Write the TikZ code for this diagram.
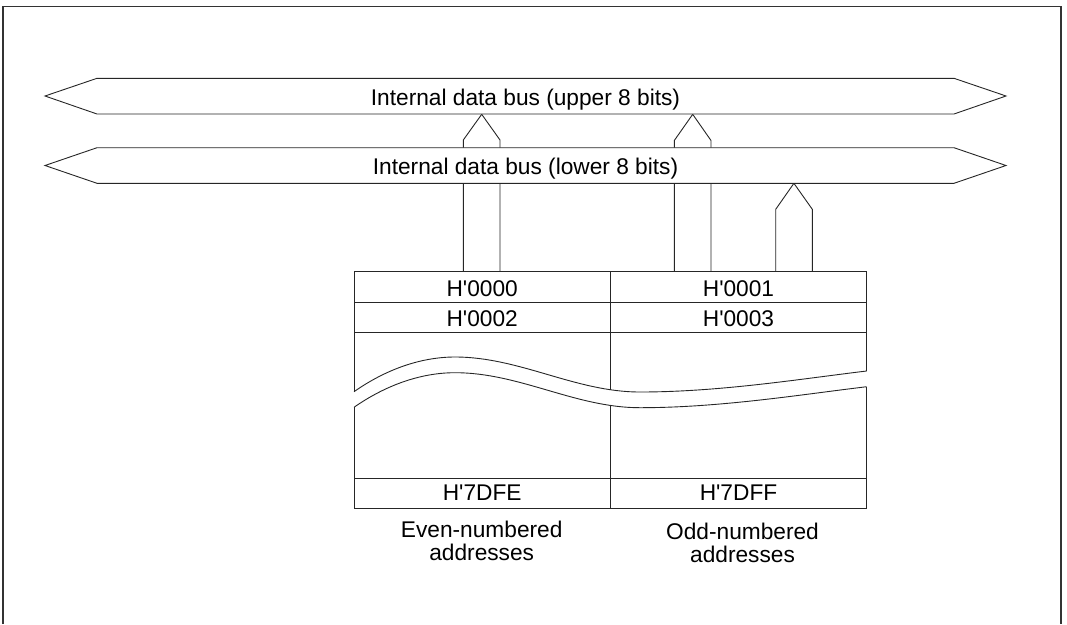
\documentclass[tikz,border=0pt]{standalone}
\usepackage{fontspec}
\setmainfont{Liberation Sans}
\newcommand{\hq}{H\textquotesingle}
\begin{document}
\begin{tikzpicture}[x=1pt,y=-1pt,
  line/.style={draw=black!85, line width=0.9pt, line join=miter},
  lbl/.style={font=\fontsize{22.7}{22.7}\selectfont, anchor=base, inner sep=0pt, text=black}]
\useasboundingbox (0,0) rectangle (1067,624);
% frame
\draw[line width=1.4pt, draw=black!80] (3,624) -- (3,6.5) -- (1061,6.5) -- (1061,624);
% arrows
\draw[line, fill=white] (463.3,271.7) -- (463.3,140) -- (481.7,114.3) -- (500,140) -- (500,271.7);
\draw[line, fill=white] (674.3,271.7) -- (674.3,140.5) -- (692.7,114.3) -- (711,140.5) -- (711,271.7);
\draw[line, fill=white] (775.7,271.7) -- (775.7,209.3) -- (793.9,183.3) -- (812.3,209.3) -- (812.3,271.7);
% buses
\draw[line, fill=white] (45,96) -- (97,78.3) -- (954,78.3) -- (1006,96) -- (954,114) -- (97,114) -- cycle;
\node[lbl] (ub) at (525.5,105.7) {Internal data bus (upper 8 bits)};
\draw[line, fill=white] (45,165.5) -- (97,147.7) -- (954,147.7) -- (1006,165.5) -- (954,183.3) -- (97,183.3) -- cycle;
\node[lbl] (lb) at (525.5,174.3) {Internal data bus (lower 8 bits)};
% memory upper part
\draw[line] (354,391.7) -- (354,271.7) -- (866.7,271.7) -- (866.7,371);
\draw[line] (354,391.7) .. controls (385,370) and (420,357) .. (455,357)
  .. controls (520,357) and (575,392) .. (640,392)
  .. controls (720,392) and (800,379) .. (866.7,371);
% memory lower part
\draw[line] (354,407.3) .. controls (385,385.7) and (420,372.7) .. (455,372.7)
  .. controls (520,372.7) and (575,407.7) .. (640,407.7)
  .. controls (720,407.7) and (800,394.7) .. (866.7,386.7);
\draw[line] (354,407.3) -- (354,508.3) -- (866.7,508.3) -- (866.7,386.7);
% rows and divider
\draw[line] (354,302.3) -- (866.7,302.3);
\draw[line] (354,332.7) -- (866.7,332.7);
\draw[line] (354,478.3) -- (866.7,478.3);
\draw[line] (610.3,271.7) -- (610.3,390);
\draw[line] (610.3,405.7) -- (610.3,508.3);
% cell labels
\node[lbl] (a0) at (482.2,296.7) {\hq 0000};
\node[lbl] (a1) at (738.5,296.7) {\hq 0001};
\node[lbl] (a2) at (482.2,326.7) {\hq 0002};
\node[lbl] (a3) at (738.5,326.7) {\hq 0003};
\node[lbl] (ae) at (482.2,500.7) {\hq 7DFE};
\node[lbl] (af) at (738.5,500.7) {\hq 7DFF};
% captions
\node[lbl] (ev1) at (481.7,537.7) {Even-numbered};
\node[lbl] (ev2) at (481.7,560.3) {addresses};
\node[lbl] (od1) at (742.5,539.7) {Odd-numbered};
\node[lbl] (od2) at (742.5,562.3) {addresses};
\end{tikzpicture}
\end{document}
